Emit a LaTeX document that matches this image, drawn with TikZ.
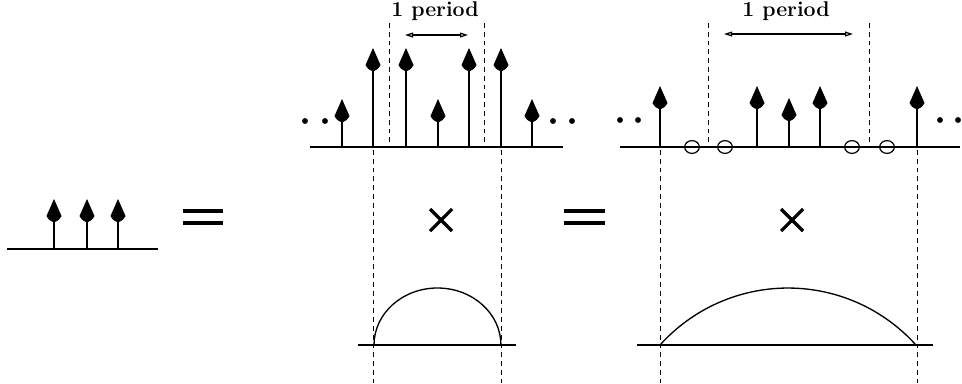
\documentclass[tikz,border=0pt]{standalone}
\usetikzlibrary{arrows.meta}
\tikzset{
  base/.style={line width=1.2pt},
  stem/.style={line width=1.2pt},
  guide/.style={line width=0.75pt, dash pattern=on 3.6pt off 3pt},
  bar/.style={line width=2.4pt},
  per/.style={line width=0.9pt, {Triangle[open,length=6pt,width=3.6pt]}-{Triangle[open,length=6pt,width=3.6pt]}},
  zero/.style={line width=0.9pt},
  lbl/.style={font=\fontsize{16}{18}\selectfont\bfseries, inner sep=0pt}
}
\newcommand\spike[3]{% x, base y, tip y
  \draw[stem] (#1,#2) -- (#1,#3+20);
  \fill (#1,#3) -- (#1+7.5,#3+17) .. controls (#1+5,#3+21) .. (#1+1,#3+23) -- (#1-1,#3+23) .. controls (#1-5,#3+21) .. (#1-7.5,#3+17) -- cycle;
}
\begin{document}
\begin{tikzpicture}[x=0.75pt,y=-0.75pt]
\useasboundingbox (0,0) rectangle (962,383);
% ---- left panel
\draw[base] (7,249) -- (158,249);
\foreach \xx in {54,87,118} {\spike{\xx}{249}{199}}
\draw[bar] (183,211) -- (223,211);
\draw[bar] (183,223) -- (223,223);
% ---- middle top
\draw[base] (310,147) -- (563,147);
\foreach \xx in {373,406,469,501} {\spike{\xx}{147}{48}}
\foreach \xx in {342,438,532} {\spike{\xx}{147}{99}}
\foreach \xx in {305,325,553,572} {\fill (\xx,121) circle[radius=2.2pt];}
\draw[guide] (389,23) -- (389,147);
\draw[guide] (484,23) -- (484,147);
\node[lbl] (p1) at (435,11) {1 period};
\coordinate (a1) at (405,35);
\coordinate (b1) at (468,35);
\draw[per] (a1) -- (b1);
% ---- middle lower
\draw[guide] (373,150) -- (373,383);
\draw[guide] (501,150) -- (501,383);
\draw[bar] (430,209) -- (452,231);
\draw[bar] (452,209) -- (430,231);
\draw[base] (358,345) -- (516,345);
\draw[line width=1pt] (374,345) arc[start angle=180,end angle=0,x radius=47.6pt,y radius=42.75pt];
% ---- equals
\draw[bar] (564,211) -- (605,211);
\draw[bar] (564,223) -- (605,223);
% ---- right top
\draw[base] (620,147) -- (960,147);
\foreach \xx in {660,757,820,917} {\spike{\xx}{147}{86}}
\spike{789}{147}{98}
\foreach \xx in {620,638,940,958} {\fill (\xx,120) circle[radius=2.2pt];}
\foreach \xx in {692,725,852,887} {\draw[zero] (\xx,147) ellipse[x radius=5.5pt,y radius=4.8pt];}
\draw[guide] (708,23) -- (708,147);
\draw[guide] (869,23) -- (869,147);
\node[lbl] (p2) at (786,11) {1 period};
\coordinate (a2) at (724,34);
\coordinate (b2) at (853,34);
\draw[per] (a2) -- (b2);
% ---- right lower
\draw[guide] (660,150) -- (660,383);
\draw[guide] (917,150) -- (917,383);
\draw[bar] (781,209) -- (803,231);
\draw[bar] (803,209) -- (781,231);
\draw[base] (637,345) -- (933,345);
\draw[line width=1pt] (660,345) arc[start angle=138,end angle=42,radius=129.15pt];
\end{tikzpicture}
\end{document}
